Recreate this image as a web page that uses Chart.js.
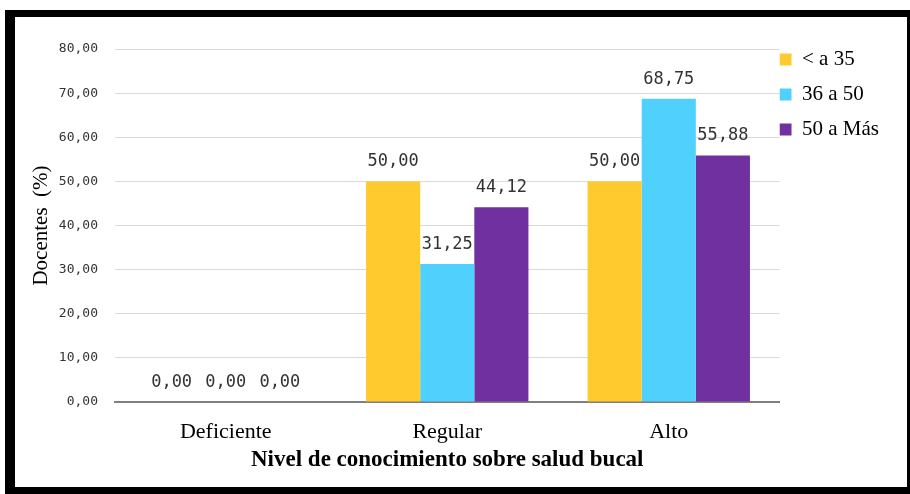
<!DOCTYPE html>
<html>
<head>
<meta charset="utf-8">
<script src="https://cdn.jsdelivr.net/npm/chart.js@4.4.1/dist/chart.umd.min.js"></script>
<style>
  html, body { margin: 0; padding: 0; background: #fff; }
  #frame {
    position: absolute;
    left: 5px;
    top: 10px;
    width: 892px;
    height: 470px;
    border-style: solid;
    border-color: #000;
    border-width: 7px 3px 7px 10px;
    background: #fff;
  }
  #chart { display: block; }
</style>
</head>
<body>
<div id="frame">
  <canvas id="chart" width="892" height="470"></canvas>
</div>
<script>
// categories and series (percent of teachers)
var niveles = ["Deficiente", "Regular", "Alto"];
var edades = ["< a 35", "36 a 50", "50 a Más"];
var menos35 = [0.00, 50.00, 50.00];
var de36a50 = [0.00, 31.25, 68.75];
var mas50 = [0.00, 44.12, 55.88];
var colores = ["#FFCA2D", "#4FD0FD", "#7030A0"];

function coma(v) {
    return v.toFixed(2).replace(".", ",");
}

// writes each bar's value above it
var etiquetas = {
    id: 'etiquetas',
    afterDatasetsDraw: function (chart) {
        var ctx = chart.ctx;
        ctx.save();
        ctx.font = '17px "DejaVu Sans Mono"';
        ctx.fillStyle = '#333333';
        ctx.textAlign = 'center';
        ctx.textBaseline = 'alphabetic';
        chart.data.datasets.forEach(function (ds, i) {
            chart.getDatasetMeta(i).data.forEach(function (bar, j) {
                ctx.fillText(coma(ds.data[j]), bar.x, bar.y - 15);
            });
        });
        ctx.restore();
    }
};

var ctx = document.getElementById('chart');
var chart = new Chart(ctx, {
    type: 'bar',
    data: {
        labels: niveles,
        datasets: [
            { label: edades[0], data: menos35, backgroundColor: colores[0] },
            { label: edades[1], data: de36a50, backgroundColor: colores[1] },
            { label: edades[2], data: mas50, backgroundColor: colores[2] }
        ]
    },
    options: {
        responsive: false,
        animation: false,
        layout: { padding: { top: 32, right: 18, bottom: 0, left: 0 } },
        datasets: {
            bar: { categoryPercentage: 0.733, barPercentage: 1.0 }
        },
        plugins: {
            tooltip: { enabled: false },
            legend: {
                position: 'right',
                align: 'start',
                labels: {
                    boxWidth: 12,
                    boxHeight: 12,
                    padding: 0,
                    color: '#000',
                    font: { family: 'Liberation Serif', size: 21, lineHeight: '35px' },
                    generateLabels: function (chart) {
                        var items = Chart.defaults.plugins.legend.labels.generateLabels(chart);
                        items.forEach(function (it) {
                            it.text = [it.text];
                            it.lineWidth = 0;
                        });
                        return items;
                    }
                }
            }
        },
        scales: {
            x: {
                grid: { display: false },
                border: { display: true, color: '#7f7f7f', width: 2 },
                ticks: {
                    color: '#000',
                    padding: 9,
                    font: { family: 'Liberation Serif', size: 22 }
                },
                title: {
                    display: true,
                    text: 'Nivel de conocimiento sobre salud bucal',
                    color: '#000',
                    padding: { top: 0, bottom: 13 },
                    font: { family: 'Liberation Serif', size: 23, weight: 'bold' }
                },
                afterFit: function (scale) { scale.height = 85; }
            },
            y: {
                min: 0,
                max: 80,
                grid: { color: '#d9d9d9', drawTicks: false },
                border: { display: false },
                ticks: {
                    stepSize: 10,
                    padding: 17,
                    color: '#333333',
                    font: { family: 'DejaVu Sans Mono', size: 13 },
                    callback: function (v) { return coma(v); }
                },
                title: {
                    display: true,
                    text: 'Docentes  (%)',
                    color: '#000',
                    padding: { top: 14, bottom: 0 },
                    font: { family: 'Liberation Serif', size: 21 }
                },
                afterFit: function (scale) { scale.width = 100; }
            }
        }
    },
    plugins: [etiquetas]
});
</script>
</body>
</html>
